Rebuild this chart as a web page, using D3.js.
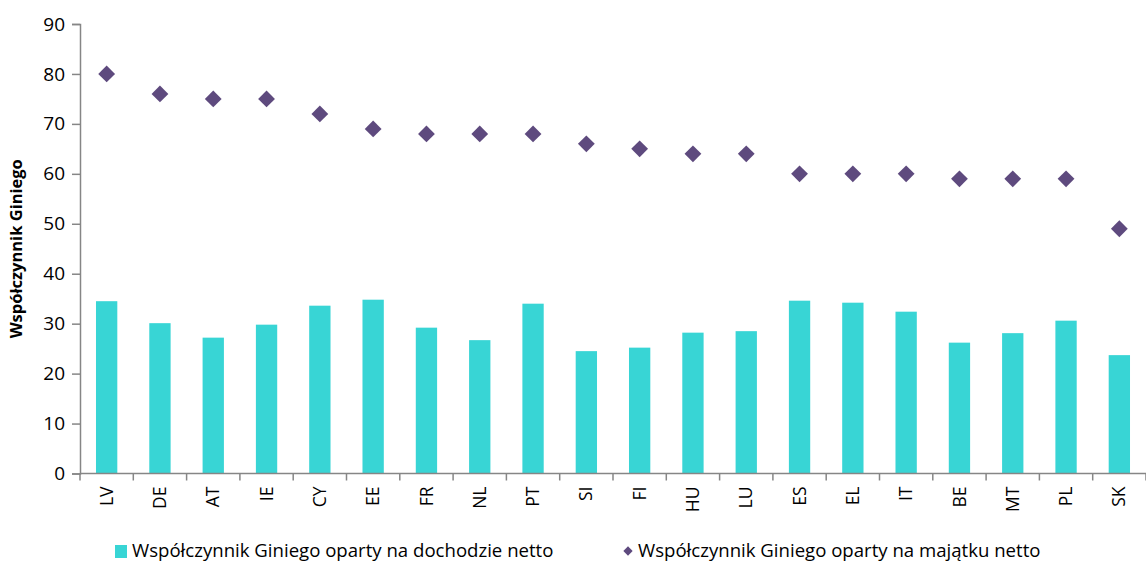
<!DOCTYPE html>
<meta charset="utf-8">
<html>
<head>
<script src="https://d3js.org/d3.v7.min.js"></script>
<style>
body { margin: 0; background: #fff; }
text { font-family: "Open Sans", "Liberation Sans", sans-serif; fill: #000; }
</style>
</head>
<body>
<div id="chart"></div>
<script>
// data
var countries = ["LV","DE","AT","IE","CY","EE","FR","NL","PT","SI","FI","HU","LU","ES","EL","IT","BE","MT","PL","SK"];
var incomeGini = [34.5,30.1,27.2,29.8,33.6,34.8,29.2,26.7,34.0,24.5,25.2,28.2,28.5,34.6,34.2,32.4,26.2,28.1,30.6,23.7];
var wealthGini = [80,76,75,75,72,69,68,68,68,66,65,64,64,60,60,60,59,59,59,49];
var yTicks = [0,10,20,30,40,50,60,70,80,90];
var legendLabels = ["Współczynnik Giniego oparty na dochodzie netto", "Współczynnik Giniego oparty na majątku netto"];

var W = 1146, H = 562;
var margin = {top: 24, right: 0, bottom: 88, left: 80};
var width = W - margin.left - margin.right,
    height = 473.5 - margin.top;

var svg = d3.select("#chart").append("svg")
    .attr("width", W).attr("height", H);
var g = svg.append("g")
    .attr("transform", "translate(" + margin.left + "," + margin.top + ")");

var x = d3.scaleBand().domain(countries).range([0, width]).paddingInner(0.6).paddingOuter(0.3);
var y = d3.scaleLinear().domain([0, 90]).range([height, 0]);

// bars
g.selectAll("rect.bar")
  .data(incomeGini)
  .enter().append("rect")
    .attr("class", "bar")
    .attr("x", function(d, i) { return x(countries[i]); })
    .attr("y", function(d) { return y(d); })
    .attr("width", x.bandwidth())
    .attr("height", function(d) { return height - y(d); })
    .style("fill", "#38d5d5");

// diamonds
var diamond = d3.symbol().type(d3.symbolDiamond2).size(180);
g.selectAll("path.dot")
  .data(wealthGini)
  .enter().append("path")
    .attr("class", "dot")
    .attr("d", diamond)
    .attr("transform", function(d, i) { return "translate(" + (x(countries[i]) + x.bandwidth() / 2) + "," + y(d) + ")"; })
    .style("fill", "#5e4a7e");

// y axis
var yAxis = g.append("g")
    .call(d3.axisLeft(y).tickValues(yTicks).tickSize(8).tickPadding(7));
yAxis.select(".domain").attr("stroke", "#868686").attr("stroke-width", 1.5);
yAxis.selectAll(".tick line").attr("stroke", "#868686").attr("stroke-width", 1.5);
yAxis.selectAll("text").style("font-size", "19px").style("fill", "#000")
    .style("font-family", "'Open Sans', sans-serif");

// x axis: ticks at band boundaries
var xAxisG = g.append("g").attr("transform", "translate(0," + height + ")");
xAxisG.append("line")
    .attr("x1", 0).attr("x2", width)
    .attr("stroke", "#868686").attr("stroke-width", 1.5);
var step = x.step();
var bounds = d3.range(countries.length + 1);
xAxisG.selectAll("line.tk")
  .data(bounds)
  .enter().append("line")
    .attr("class", "tk")
    .attr("x1", function(d) { return d * step; })
    .attr("x2", function(d) { return d * step; })
    .attr("y1", 0).attr("y2", 7)
    .attr("stroke", "#868686").attr("stroke-width", 1.5);
xAxisG.selectAll("text.lbl")
  .data(countries)
  .enter().append("text")
    .attr("class", "lbl")
    .attr("transform", function(d) { return "translate(" + (x(d) + x.bandwidth() / 2) + ",13) rotate(-90)"; })
    .attr("text-anchor", "end")
    .attr("dy", "0.35em")
    .style("font-size", "17.5px")
    .text(function(d) { return d; });

// y label
svg.append("text")
    .attr("transform", "translate(22," + (margin.top + height / 2) + ") rotate(-90)")
    .attr("text-anchor", "middle")
    .style("font-size", "16.5px")
    .style("font-weight", "bold")
    .text("Współczynnik Giniego");

// legend
var leg = svg.append("g");
leg.append("rect").attr("x", 115).attr("y", 545).attr("width", 12).attr("height", 13).style("fill", "#38d5d5");
leg.append("text").attr("x", 132).attr("y", 557).style("font-size", "18.6px").text(legendLabels[0]);
leg.append("path").attr("d", d3.symbol().type(d3.symbolDiamond2).size(55))
    .attr("transform", "translate(628,551)").style("fill", "#5e4a7e");
leg.append("text").attr("x", 638).attr("y", 557).style("font-size", "18.6px").text(legendLabels[1]);
</script>
</body>
</html>
